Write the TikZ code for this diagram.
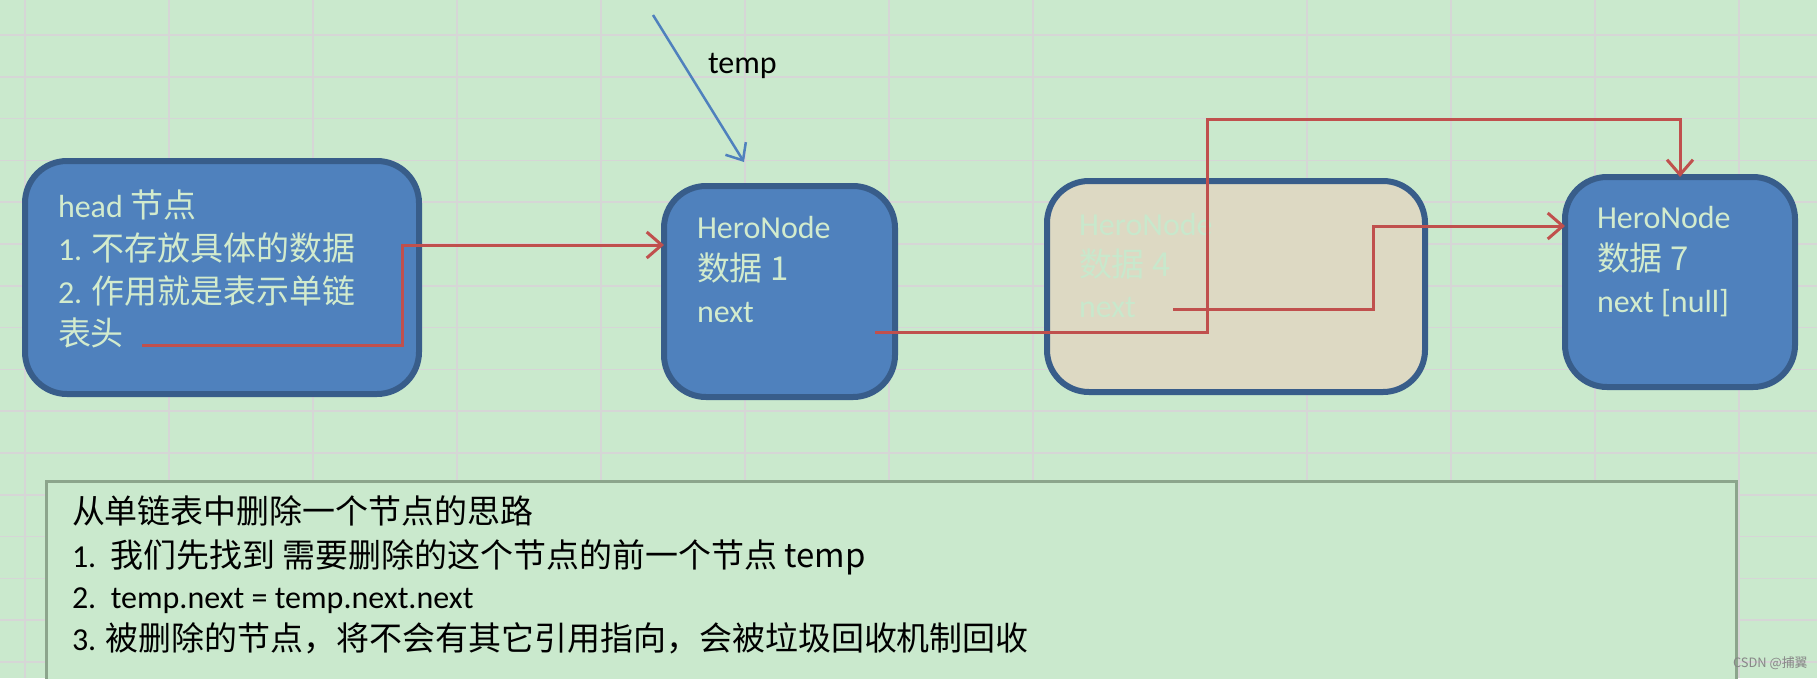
\documentclass[tikz,border=0pt]{standalone}
\usepackage{fontspec}
\setmainfont{Carlito}
\newfontfamily\cjk[Scale=1.03]{Noto Sans CJK SC}
\usetikzlibrary{arrows.meta}
\definecolor{bgc}{RGB}{202,233,205}
\definecolor{gridc}{RGB}{214,214,214}
\definecolor{nfill}{RGB}{79,129,189}
\definecolor{nborder}{RGB}{56,93,138}
\definecolor{ntext}{RGB}{210,235,205}
\definecolor{beige}{RGB}{221,217,195}
\definecolor{dimtext}{RGB}{200,232,204}
\definecolor{redc}{RGB}{192,80,77}
\definecolor{bluec}{RGB}{79,129,189}
\definecolor{noteborder}{RGB}{140,165,140}
\definecolor{wmark}{RGB}{135,135,135}
\begin{document}
\begin{tikzpicture}[x=1pt,y=-1pt,
  every node/.style={inner sep=0pt,outer sep=0pt},
  gridline/.style={draw=gridc,line width=1.5pt},
  nodebox/.style={draw=nborder,fill=nfill,line width=6pt,rounded corners=42pt},
  deadbox/.style={draw=nborder,fill=beige,line width=6pt,rounded corners=42pt},
  notebox/.style={draw=noteborder,fill=bgc,line width=3pt},
  txt/.style={anchor=base west,text=ntext,font=\fontsize{32}{40}\selectfont},
  dimtxt/.style={anchor=base west,text=dimtext,font=\fontsize{32}{40}\selectfont},
  blacktxt/.style={anchor=base west,text=black,font=\fontsize{32}{40}\selectfont},
  link/.style={draw=redc,line width=3pt,-{Straight Barb[length=15pt,width=26pt]}},
  plainlink/.style={draw=redc,line width=3pt},
  ptr/.style={draw=bluec,line width=2.5pt,-{Straight Barb[length=14pt,width=24pt]}}
]
\useasboundingbox (0,0) rectangle (1817,678);
\fill[bgc] (0,0) rectangle (1817,678);
\clip (0,0) rectangle (1817,678);
% spreadsheet grid
\foreach \k in {0,...,15} \draw[gridline] (0,35+41.8*\k) -- (1817,35+41.8*\k);
\foreach \x in {25,169,313,457,601,745,889,1033,1307,1451,1595,1739} \draw[gridline] (\x,0) -- (\x,678);

% boxes
\node[nodebox,minimum width=394pt,minimum height=233pt] (head) at (222,277.5) {};
\node[nodebox,minimum width=231pt,minimum height=211pt] (n1) at (779.5,291.5) {};
\node[deadbox,minimum width=378pt,minimum height=211pt] (n4) at (1236,286.5) {};
\node[nodebox,minimum width=230pt,minimum height=210pt] (n7) at (1680,282) {};
\node[notebox,minimum width=1690pt,minimum height=240pt,anchor=north west] (note) at (46.5,481.5) {};

% head text
\node[txt] (h1) at (58,217) {head \cjk{节点}};
\node[txt] (h2) at (58,260) {1. \cjk{不存放具体的数据}};
\node[txt] (h3) at (58,303) {2. \cjk{作用就是表示单链}};
\node[txt] (h4) at (58,345) {\cjk{表头}};
% node 1 text
\node[txt] (a1) at (697,238) {HeroNode};
\node[txt] (a2) at (697,280) {\cjk{数据} 1};
\node[txt] (a3) at (697,322) {next};
% node 4 text
\node[dimtxt] (b1) at (1079,235) {HeroNode};
\node[dimtxt] (b2) at (1079,276) {\cjk{数据} 4};
\node[dimtxt] (b3) at (1079,317) {next};
% node 7 text
\node[txt] (c1) at (1597,228) {HeroNode};
\node[txt] (c2) at (1597,270) {\cjk{数据} 7};
\node[txt] (c3) at (1597,312) {next [null]};
% temp label
\node[blacktxt] (templbl) at (708,73) {temp};
% note text
\node[blacktxt] (t1) at (72,523) {\cjk{从单链表中删除一个节点的思路}};
\node[blacktxt] (t2) at (72,567) {1.\ \ \cjk{我们先找到} \cjk{需要删除的这个节点的前一个节点} temp};
\node[blacktxt] (t3) at (72,608) {2.\ \ temp.next = temp.next.next};
\node[blacktxt] (t4) at (72,650) {3. \cjk{被删除的节点，将不会有其它引用指向，会被垃圾回收机制回收}};
% watermark
\node[anchor=base west,text=wmark,font=\fontsize{12.5}{13}\selectfont] (wm) at (1733,667) {\cjk{CSDN @捕翼}};

% connectors
\coordinate (hout) at (142,345);
\coordinate (hbend) at (402,245);
\draw[link] (hout) -| (hbend) -- (n1.west |- hbend);

\coordinate (n1out) at (875,332);
\coordinate (topbend) at (1207,119);
\draw[link] (n1out) -| (topbend) -| (n7.north);

\coordinate (n4out) at (1173,309);
\coordinate (midbend) at (1373,226);
\draw[link] (n4out) -| (midbend) -- (n7.west |- midbend);

\coordinate (tstart) at (653,15);
\coordinate (tend) at (744,162);
\draw[ptr] (tstart) -- (tend);
\end{tikzpicture}
\end{document}
